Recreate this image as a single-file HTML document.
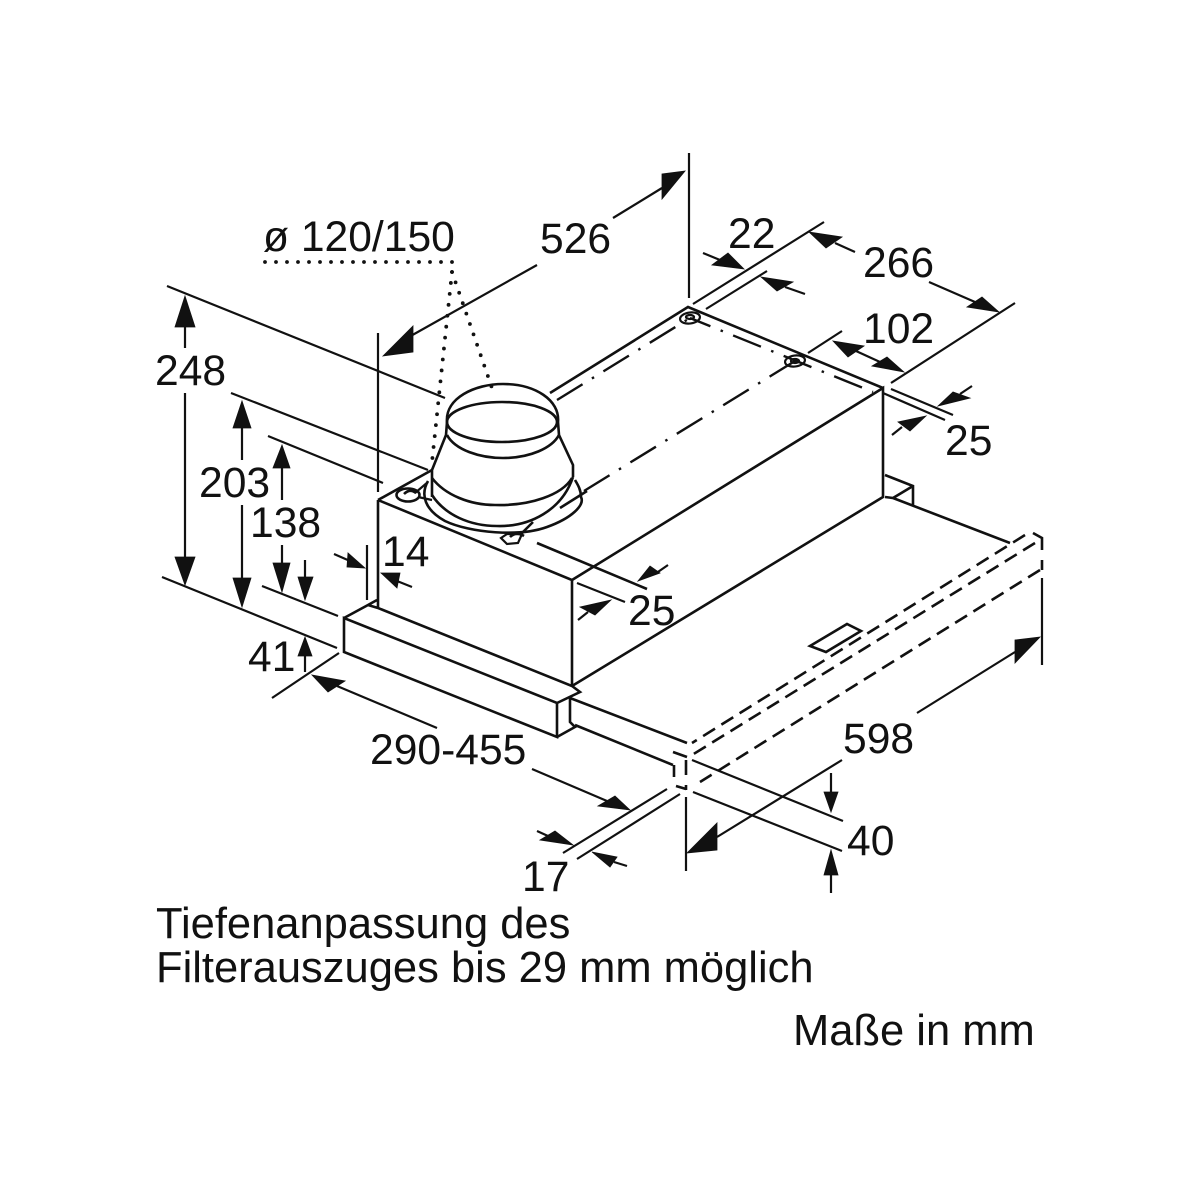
<!DOCTYPE html>
<html><head><meta charset="utf-8"><style>
html,body{margin:0;padding:0;background:#fff}
svg{display:block}
text{font-family:"Liberation Sans",sans-serif;font-size:42.6px;fill:#111}
text.b{font-size:43.5px}
.l{fill:none;stroke:#111;stroke-width:2.6;stroke-linecap:butt;stroke-linejoin:miter}
.t{fill:none;stroke:#111;stroke-width:2.2}
.d{fill:none;stroke:#111;stroke-width:2.6;stroke-dasharray:14 7.5}
.c{fill:none;stroke:#111;stroke-width:2.4;stroke-dasharray:30 11 2.5 11}
.o{fill:none;stroke:#111;stroke-width:3.8;stroke-linecap:round;stroke-dasharray:0 11}
polygon{fill:#111;stroke:#111;stroke-width:.8}
</style></head><body>
<svg width="1200" height="1200" viewBox="0 0 1200 1200" xmlns="http://www.w3.org/2000/svg">
<rect width="1200" height="1200" fill="#fff"/>

<!-- box -->
<path class="l" d="M378,500 L572,580 L572,686 M378,500 V608 L572,686 L580,692 L557,703 L344,618 V652 L557,737 V703 M344,618 L368,605 L378,608 M368,605 L377,600"/>
<path class="l" d="M378,500 L432,470 M550,393 L688,307 L883,388 M572,580 L883,388 V497 L572,686"/>
<path class="l" d="M557,737 L575,727 L570,722 V698 M570,698 L687,743 M575,725 L673,765"/>
<path class="l" d="M885,475 L913,486 V505 M885,497 L893,498 L913,486 M893,498 L1010,543"/>
<path class="l" d="M810,646 L847,624 L861,631 L826,652 Z"/>

<!-- dashed slide-out -->
<path class="d" d="M1025,535 L692,743"/>
<path class="d" d="M1035,543 L692,755"/>
<path class="d" d="M1040,570 L700,782"/>
<path class="l" d="M1033,533 L1042,538 V550 M1042,560 V570 M673,752 L687,757 M674,765 V777 M686,760 V775 M676,786 L686,789 M686,785 V790"/>

<!-- center lines -->
<path class="c" d="M557,400 L690,318"/>
<path class="c" d="M584,491 L795,361"/>
<path class="c" d="M690,318 L873,392" stroke-dashoffset="8"/>
<path class="l" d="M537,543 L647,589 M520,535 L533,522 M560,508 L587,491"/>

<!-- holes -->
<ellipse class="t" cx="690" cy="318" rx="10" ry="5.5" transform="rotate(-8 690 318)"/>
<ellipse class="t" cx="690" cy="317" rx="4" ry="2"/>
<ellipse class="t" cx="795" cy="361" rx="10" ry="5.5" transform="rotate(-8 795 361)"/>
<ellipse class="t" cx="795" cy="361" rx="4" ry="2"/>

<!-- funnel -->
<path fill="#fff" stroke="none" d="M447,410 C450,395 475,384 503,384 C535,384 556,398 558,422 L559,435 L573,465 V477 C562,510 530,527 497,526 C470,526 445,515 432,495 V470 L446,435 Z"/>
<ellipse class="l" cx="502" cy="422" rx="55" ry="20"/>
<path class="l" d="M447,422 C445,398 475,384 503,384 C535,384 560,400 558,422"/>
<path class="l" d="M447,435 C455,450 480,458 503,458 C530,458 552,448 559,435"/>
<path class="l" d="M447,422 L446,435 L432,470 V497 M558,422 L559,435 L573,465 V477"/>
<path class="l" d="M432,478 C445,495 470,505 495,505 C530,506 562,495 572,478"/>
<path class="l" d="M432,495 C445,515 470,526 497,526 C530,527 562,510 573,477"/>
<path class="l" d="M428,481 C420,495 425,510 445,521 C470,533 520,537 547,527 C572,518 585,505 581,497 C581,490 578,485 575,480"/>
<path class="t" d="M415,493 L428,482 M418,497 L432,500"/>
<ellipse class="l" cx="408" cy="495" rx="11.5" ry="6.5"/>
<path class="l" d="M404,494 Q410,488 416,493"/>
<path class="t" d="M501,538 L507,534 L522,534 L518,543 L507,544 Z"/>
<path class="l" d="M510,537 Q516,531 524,536"/>

<!-- dotted leaders -->
<path class="o" d="M265,262 H453"/>
<path class="o" d="M452,272 L432,462"/>
<path class="o" d="M452,272 L492,388"/>

<!-- extension lines -->
<path class="t" d="M167,286 L445,398 M231,393 L428,470 M268,436 L383,483 M162,577 L337,648 M262,586 L338,616"/>
<path class="t" d="M378,333 V492 M689,153 V298 M367,545 V600 M272,698 L339,653"/>
<path class="t" d="M693,304 L824,222 M706,309 L767,271 M808,353 L842,331 M891,383 L1015,303"/>
<path class="t" d="M891,389 L953,415 M883,393 L945,420 M577,583 L625,602 M1042,578 V665"/>
<path class="t" d="M686,797 V871 M692,760 L843,821 M693,792 L842,851 M563,853 L667,789 M577,859 L680,794"/>

<!-- vertical dims -->
<path class="t" d="M185,327 V348 M185,393 V557"/>
<polygon points="185,296 175,327 195,327"/><polygon points="185,585 175,557 195,557"/>
<path class="t" d="M242,428 V460 M242,505 V578"/>
<polygon points="242,401 233,428 251,428"/><polygon points="242,607 233,578 251,578"/>
<path class="t" d="M282,468 V500 M282,545 V565 M305,560 V578"/>
<polygon points="282,445 273,468 290,468"/><polygon points="282,592 273,563 290,563"/><polygon points="305,600 298,577 313,577"/>
<path class="t" d="M305,656 V672"/><polygon points="305,637 298,656 312,656"/>
<path class="t" d="M831,773 V792 M831,875 V893"/>
<polygon points="831,812 824,792 838,792"/><polygon points="831,850 824,875 838,875"/>

<!-- 14 -->
<path class="t" d="M334,554 L350,561 M397,581 L412,587"/>
<polygon points="365,568 348,553 347,567"/><polygon points="381,573 400,573 397,588"/>

<!-- 526 -->
<path class="t" d="M662,188 L613,218 M400,342 L537,265"/>
<polygon points="685,171 662,174 662,199"/><polygon points="383,356 413,326 413,352"/>

<!-- 22 -->
<path class="t" d="M703,253 L720,260 M785,287 L805,294"/>
<polygon points="744,269 728,253 712,265"/><polygon points="761,277 793,282 777,291"/>

<!-- 266 -->
<path class="t" d="M835,243 L855,252 M929,282 L975,302"/>
<polygon points="809,232 842,237 826,248"/><polygon points="999,312 982,297 967,307"/>

<!-- 102 -->
<path class="t" d="M856,351 L880,362"/>
<polygon points="833,341 864,346 848,357"/><polygon points="904,372 887,357 872,366"/>

<!-- 25 right -->
<path class="t" d="M960,394 L972,386 M902,427 L892,435"/>
<polygon points="938,406 953,392 970,398"/><polygon points="926,416 898,422 910,431"/>

<!-- 25 front -->
<path class="t" d="M655,574 L668,565 M588,612 L578,620"/>
<polygon points="638,581 650,566 660,573"/><polygon points="611,600 580,607 595,615"/>

<!-- 290-455 -->
<path class="t" d="M337,686 L437,728 M532,769 L607,801"/>
<polygon points="312,675 345,681 328,692"/><polygon points="630,810 615,796 598,806"/>

<!-- 17 -->
<path class="t" d="M537,831 L548,836 M614,862 L627,866"/>
<polygon points="573,845 555,831 540,840"/><polygon points="592,852 617,857 610,867"/>

<!-- 598 -->
<path class="t" d="M1015,652 L917,713 M717,837 L842,760"/>
<polygon points="1040,637 1015,640 1015,663"/><polygon points="687,853 717,823 717,850"/>

<!-- labels -->
<text x="263" y="251">ø 120/150</text>
<text x="540" y="253">526</text>
<text x="728" y="248">22</text>
<text x="863" y="277">266</text>
<text x="863" y="343">102</text>
<text x="945" y="455">25</text>
<text x="155" y="385">248</text>
<text x="199" y="497">203</text>
<text x="250" y="537">138</text>
<text x="382" y="566">14</text>
<text x="628" y="625">25</text>
<text x="248" y="671">41</text>
<text x="370" y="764">290-455</text>
<text x="843" y="753">598</text>
<text x="847" y="855">40</text>
<text x="522" y="891">17</text>
<text class="b" x="156" y="938">Tiefenanpassung des</text>
<text class="b" x="156" y="982">Filterauszuges bis 29 mm möglich</text>
<text class="b" x="793" y="1045">Maße in mm</text>
</svg>
</body></html>
